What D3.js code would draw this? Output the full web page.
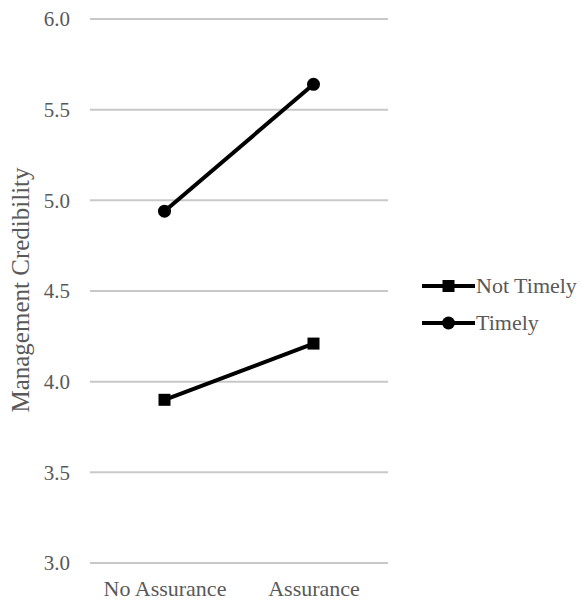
<!DOCTYPE html>
<html><head><meta charset="utf-8">
<script src="https://cdn.jsdelivr.net/npm/d3@7"></script>
<style>body{margin:0;background:#fff}svg{display:block}</style>
</head><body>
<script>
const categories = ["No Assurance", "Assurance"];
const seriesNames = ["Not Timely", "Timely"];
const notTimely = [3.90, 4.21];
const timely = [4.94, 5.64];
const yTicks = [3.0, 3.5, 4.0, 4.5, 5.0, 5.5, 6.0];
const yTitle = "Management Credibility";

const W = 582, H = 603;
const svg = d3.select("body").append("svg").attr("width", W).attr("height", H);
const font = '"Liberation Serif", "Times New Roman", serif';
const txtCol = "#595959";

const x = d3.scalePoint().domain(categories).range([164.5, 313.5]);
const y = d3.scaleLinear().domain([3, 6]).range([563, 19]);
const xL = 90, xR = 388;

const grid = svg.append("g");
grid.selectAll("line").data(yTicks).join("line")
  .attr("x1", xL).attr("x2", xR)
  .attr("y1", d => y(d)).attr("y2", d => y(d))
  .attr("stroke", "#c8c8c8").attr("stroke-width", 2);

const yAxis = d3.axisLeft(y).tickValues(yTicks).tickFormat(d3.format(".1f")).tickSize(0).tickPadding(0);
const ga = svg.append("g").attr("transform", `translate(70,0)`).call(yAxis);
ga.select(".domain").remove();
ga.selectAll("text").style("font-family", font).style("font-size", "21px").attr("fill", txtCol).attr("dy", "0.33em");

const xAxis = d3.axisBottom(x).tickSize(0).tickPadding(0);
const gx = svg.append("g").attr("transform", `translate(0,596)`).call(xAxis);
gx.select(".domain").remove();
gx.selectAll("text").style("font-family", font).style("font-size", "22px").attr("fill", txtCol).attr("dy", "0");

svg.append("text").attr("transform", `translate(29,290) rotate(-90)`)
  .attr("text-anchor", "middle").style("font-family", font).style("font-size", "25px")
  .attr("fill", txtCol).text(yTitle);

const line = d3.line().x((d, i) => x(categories[i])).y(d => y(d));
const series = [{name: seriesNames[0], vals: notTimely, shape: "square"}, {name: seriesNames[1], vals: timely, shape: "circle"}];

function marker(g, shape, cx, cy) {
  if (shape === "square") {
    g.append("rect").attr("x", cx - 6).attr("y", cy - 6).attr("width", 12).attr("height", 12).attr("fill", "#000");
  } else {
    g.append("circle").attr("cx", cx).attr("cy", cy).attr("r", 6.5).attr("fill", "#000");
  }
}

series.forEach(s => {
  const g = svg.append("g");
  g.append("path").attr("d", line(s.vals)).attr("fill", "none").attr("stroke", "#000").attr("stroke-width", 4);
  s.vals.forEach((v, i) => marker(g, s.shape, x(categories[i]), y(v)));
});

const legY = [286, 323];
series.forEach((s, i) => {
  const g = svg.append("g");
  g.append("line").attr("x1", 422).attr("x2", 475).attr("y1", legY[i]).attr("y2", legY[i]).attr("stroke", "#000").attr("stroke-width", 4);
  marker(g, s.shape, 448.5, legY[i]);
  g.append("text").attr("x", 476).attr("y", legY[i]).attr("dy", "0.33em")
    .style("font-family", font).style("font-size", "22px").attr("fill", txtCol).text(s.name);
});
</script>
</body></html>
